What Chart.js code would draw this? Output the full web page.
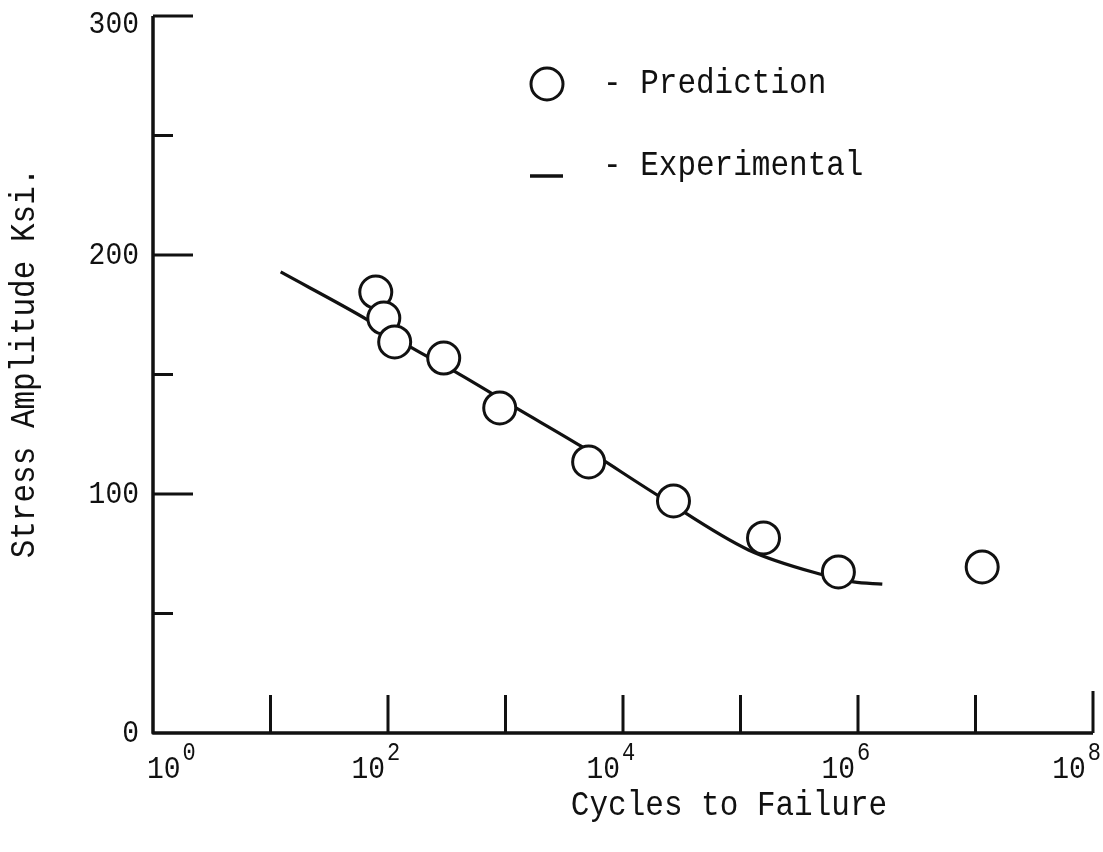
<!DOCTYPE html>
<html>
<head>
<meta charset="utf-8">
<script src="https://cdn.jsdelivr.net/npm/chart.js@4/dist/chart.umd.min.js"></script>
<style>
  html, body { margin: 0; padding: 0; background: #fff; }
  canvas { display: block; }
</style>
</head>
<body>
<canvas id="sn-chart" width="1103" height="852"></canvas>
<script>
// S-N curve: cycles to failure vs stress amplitude

const experimentalCycles = [12.2, 67.3, 156, 378, 1270, 4360, 20100, 117000, 508000, 914000, 1610000];
const experimentalStress = [192.9, 172.8, 161.5, 151.0, 135.6, 120.1, 99.2, 76.6, 66.1, 63.2, 62.3];

const predictionCycles = [78.7, 92.1, 114, 298, 893, 5100, 26900, 157000, 681000, 11400000];
const predictionStress = [184.5, 173.6, 163.6, 156.9, 136.0, 113.4, 97.1, 81.6, 67.4, 69.5];

const xTickDecades = [1, 2, 3, 4, 5, 6, 7, 8];
const xLabelDecades = [0, 2, 4, 6, 8];
const yTickValues = [50, 100, 150, 200, 250, 300];
const yLabelValues = [0, 100, 200, 300];

const xTitle = 'Cycles to Failure';
const yTitle = 'Stress Amplitude Ksi.';
const seriesNames = ['Prediction', 'Experimental'];

const INK = '#111';
const FONT = '"Liberation Mono", "DejaVu Sans Mono", monospace';
const STRETCH = 1.15; // typewriter glyphs are taller than Liberation Mono

function toPoints(xs, ys) {
    return xs.map((x, i) => ({ x: x, y: ys[i] }));
}

// text drawn slightly stretched vertically around its anchor
function typeText(ctx, text, x, y) {
    ctx.save();
    ctx.translate(x, y);
    ctx.scale(1, STRETCH);
    ctx.fillText(text, 0, 0);
    ctx.restore();
}

const typewriterAxes = {
    id: 'typewriterAxes',
    afterDraw(chart) {
        const ctx = chart.ctx;
        const xs = chart.scales.x;
        const ys = chart.scales.y;
        const area = chart.chartArea;
        ctx.save();
        ctx.strokeStyle = INK;
        ctx.fillStyle = INK;

        // axis lines
        ctx.lineWidth = 3.5;
        ctx.lineJoin = 'round';
        ctx.beginPath();
        ctx.moveTo(area.left, area.top);
        ctx.lineTo(area.left, area.bottom);
        ctx.lineTo(area.right, area.bottom);
        ctx.stroke();

        // inward ticks
        ctx.lineWidth = 3;
        ctx.beginPath();
        yTickValues.forEach(v => {
            const y = ys.getPixelForValue(v);
            const len = v % 100 === 0 ? 40 : 20;
            ctx.moveTo(area.left, y);
            ctx.lineTo(area.left + len, y);
        });
        xTickDecades.forEach(d => {
            const x = xs.getPixelForValue(Math.pow(10, d));
            const len = d === 8 ? 42 : 38;
            ctx.moveTo(x, area.bottom);
            ctx.lineTo(x, area.bottom - len);
        });
        ctx.stroke();

        // y tick labels
        ctx.font = '28px ' + FONT;
        ctx.textAlign = 'right';
        ctx.textBaseline = 'middle';
        yLabelValues.forEach(v => {
            const y = Math.max(ys.getPixelForValue(v), area.top + 8);
            typeText(ctx, String(v), area.left - 14, y);
        });

        // x tick labels, 10 with raised exponent
        xLabelDecades.forEach((d, i) => {
            const x = xs.getPixelForValue(Math.pow(10, d));
            ctx.font = '22px ' + FONT;
            const ew = ctx.measureText(String(d)).width;
            ctx.font = '28px ' + FONT;
            const w = ctx.measureText('10').width;
            let left = i === 0 ? x - 6 : x - 3 - w;
            left = Math.min(left, chart.width - 2 - ew - 2 - w);
            ctx.textAlign = 'left';
            ctx.textBaseline = 'middle';
            typeText(ctx, '10', left, area.bottom + 36);
            ctx.font = '22px ' + FONT;
            typeText(ctx, String(d), left + w + 2, area.bottom + 20);
        });

        // axis titles
        ctx.font = '31px ' + FONT;
        ctx.textAlign = 'center';
        ctx.textBaseline = 'middle';
        typeText(ctx, xTitle, 729, 806);
        ctx.save();
        ctx.translate(25, 363);
        ctx.rotate(-Math.PI / 2);
        typeText(ctx, yTitle, 0, 0);
        ctx.restore();

        // legend
        ctx.lineWidth = 3;
        ctx.fillStyle = '#fff';
        ctx.beginPath();
        ctx.arc(547, 84, 16, 0, Math.PI * 2);
        ctx.fill();
        ctx.stroke();
        ctx.lineWidth = 3.5;
        ctx.beginPath();
        ctx.moveTo(530, 176);
        ctx.lineTo(563, 176);
        ctx.stroke();
        ctx.fillStyle = INK;
        ctx.textAlign = 'left';
        typeText(ctx, '- ' + seriesNames[0], 603, 84);
        typeText(ctx, '- ' + seriesNames[1], 603, 166);

        ctx.restore();
    }
};

const sn_config = {
    type: 'scatter',
    data: {
        datasets: [{
            label: seriesNames[0],
            data: toPoints(predictionCycles, predictionStress),
            showLine: false,
            pointRadius: 16,
            pointBorderWidth: 3,
            pointBorderColor: INK,
            pointBackgroundColor: '#fff',
            order: 0
        }, {
            label: seriesNames[1],
            data: toPoints(experimentalCycles, experimentalStress),
            showLine: true,
            borderColor: INK,
            borderWidth: 3.2,
            pointRadius: 0,
            cubicInterpolationMode: 'monotone',
            order: 1
        }]
    },
    options: {
        responsive: false,
        animation: false,
        events: [],
        layout: {
            autoPadding: false,
            padding: { left: 153, right: 10, top: 16, bottom: 119 }
        },
        plugins: {
            legend: { display: false },
            tooltip: { enabled: false }
        },
        scales: {
            x: { type: 'logarithmic', min: 1, max: 1e8, display: false },
            y: { type: 'linear', min: 0, max: 300, display: false }
        }
    },
    plugins: [typewriterAxes]
};

const sn_ctx = document.getElementById('sn-chart').getContext('2d');
const sn_chart = new Chart(sn_ctx, sn_config);
</script>
</body>
</html>
